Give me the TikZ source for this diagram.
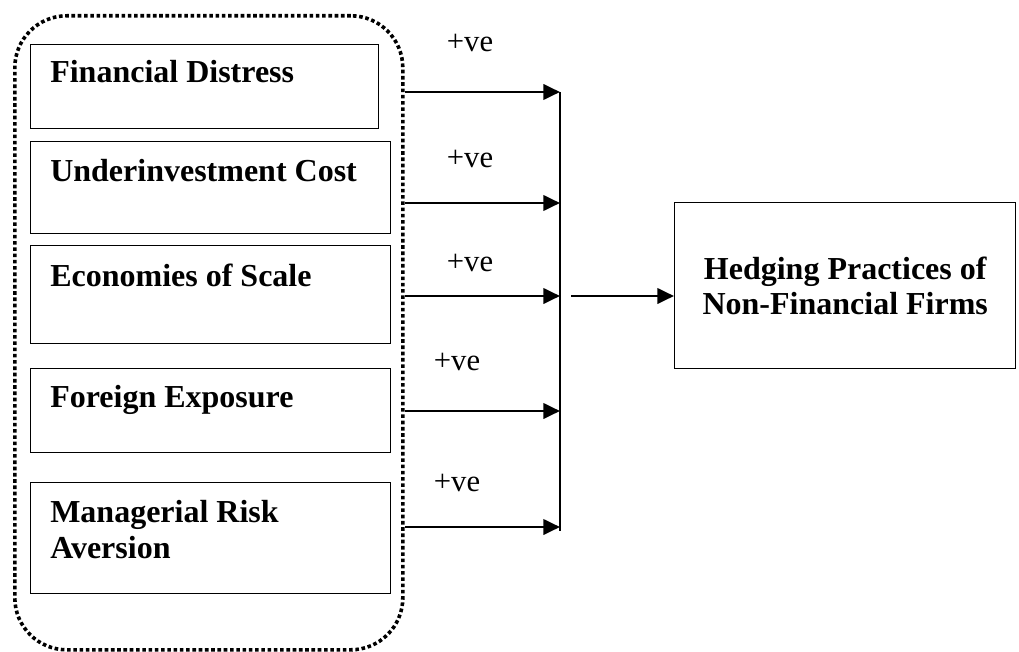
\documentclass[tikz,border=0pt]{standalone}
\usepackage{fontspec}
\setmainfont{Liberation Serif}
\usetikzlibrary{arrows.meta}
\begin{document}
\begin{tikzpicture}[x=0.75pt,y=-0.75pt,
  factorbox/.style={draw, line width=1.1pt, inner sep=0pt, anchor=north west},
  factortext/.style={anchor=base west, inner sep=0pt, align=left,
    font=\bfseries\fontsize{24pt}{27pt}\selectfont},
  outcometext/.style={align=center, font=\bfseries\fontsize{24pt}{26.5pt}\selectfont},
  signlabel/.style={inner sep=0pt, font=\fontsize{23pt}{27pt}\selectfont},
  link/.style={line width=2.1pt, -{Triangle[length=12.5pt,width=11.5pt]}},
  bus/.style={line width=1.2pt},
  groupframe/.style={draw, line width=2.7pt, dash pattern=on 2.7pt off 2.0pt,
    rounded corners=39pt, inner sep=0pt, anchor=north west}
]
\useasboundingbox (0,0) rectangle (1019,652);

% dotted frame around the explanatory factors
\node[groupframe, minimum width=388*0.75pt, minimum height=634*0.75pt] (grp) at (13,14) {};

% factor boxes
\node[factorbox, minimum width=348*0.75pt, minimum height=84*0.75pt]  (fd) at (30,44)  {};
\node[factorbox, minimum width=360*0.75pt, minimum height=92*0.75pt]  (uc) at (30,141) {};
\node[factorbox, minimum width=360*0.75pt, minimum height=98*0.75pt]  (es) at (30,245) {};
\node[factorbox, minimum width=360*0.75pt, minimum height=84*0.75pt]  (fe) at (30,368) {};
\node[factorbox, minimum width=360*0.75pt, minimum height=111*0.75pt] (mr) at (30,482) {};

% factor names (base anchor of a two-line node sits on its last line)
\node[factortext] (fdt) at (50,83)  {Financial Distress};
\node[factortext] (uct) at (50,182) {Underinvestment Cost};
\node[factortext] (est) at (50,286) {Economies of Scale};
\node[factortext] (fet) at (50,407) {Foreign Exposure};
\node[factortext] (mrt) at (50,558) {Managerial Risk\\Aversion};

% outcome box
\node[factorbox, outcometext, minimum width=341*0.75pt, minimum height=166*0.75pt]
  (hp) at (674,202) {Hedging Practices of\\Non-Financial Firms};

% collecting bus
\coordinate (j1) at (560,92);
\coordinate (j2) at (560,203);
\coordinate (j3) at (560,296);
\coordinate (j4) at (560,411);
\coordinate (j5) at (560,527);
\coordinate (busEnd) at (560,531);
\draw[bus] (j1) -- (busEnd);

% arrows from the factor group to the bus
\draw[link] (grp.east |- j1) -- (j1);
\draw[link] (grp.east |- j2) -- (j2);
\draw[link] (grp.east |- j3) -- (j3);
\draw[link] (grp.east |- j4) -- (j4);
\draw[link] (grp.east |- j5) -- (j5);

% arrow into the outcome
\coordinate (split) at (571,296);
\draw[link] (split) -- (hp.west |- split);

% sign labels
\node[signlabel] (s1) at (470,43)  {+ve};
\node[signlabel] (s2) at (470,159) {+ve};
\node[signlabel] (s3) at (470,263) {+ve};
\node[signlabel] (s4) at (457,362) {+ve};
\node[signlabel] (s5) at (457,483) {+ve};
\end{tikzpicture}
\end{document}
